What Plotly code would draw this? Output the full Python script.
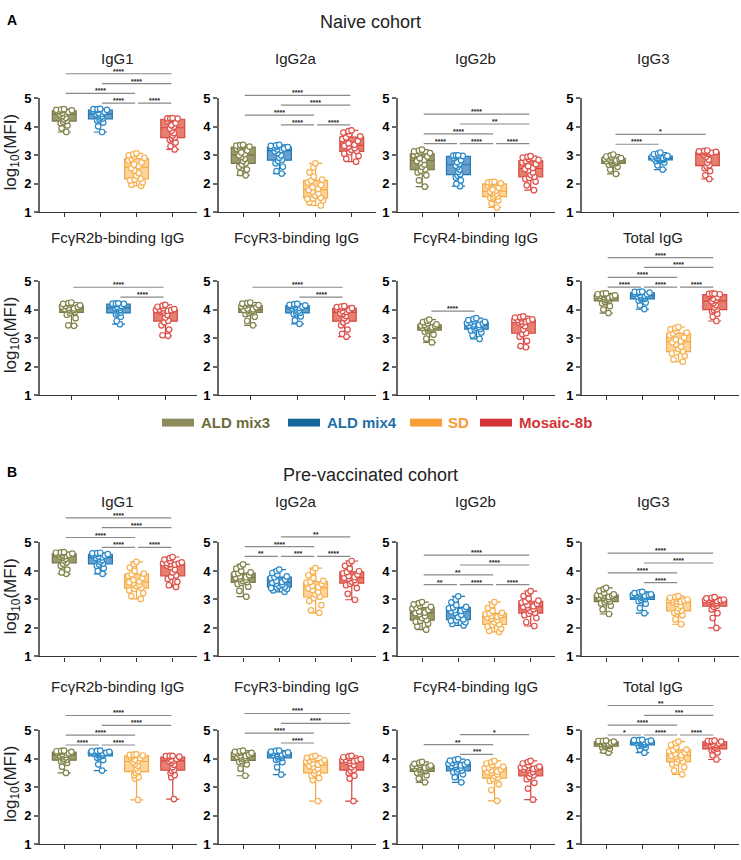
import numpy as np
import plotly.graph_objects as go

W, H = 741, 860
FONT = "Liberation Sans"

group_names = ["ALD mix3", "ALD mix4", "SD", "Mosaic-8b"]
box_line = ["#77774A", "#1F77B4", "#F5A742", "#D64541"]
box_fill = ["#9A9A6A", "#6A9FCB", "#FDD59A", "#E5806F"]
pt_line = ["#85854F", "#2E8BC9", "#F7B252", "#E0524C"]
legend_swatch = ["#8B8B5C", "#17679B", "#F99D36", "#D3343A"]
legend_text = ["#6C6D3A", "#1F6FA8", "#F79B35", "#D13438"]

# ---------------- Naive cohort ----------------
naive_igg1_mix3 = [3.82, 3.95, 4.05, 4.13, 4.18, 4.21, 4.26, 4.32, 4.38, 4.43, 4.47, 4.49, 4.52, 4.54, 4.56, 4.58, 4.59, 4.60, 4.61, 4.62]
naive_igg1_mix4 = [3.82, 4.02, 4.15, 4.22, 4.26, 4.29, 4.33, 4.37, 4.41, 4.44, 4.46, 4.49, 4.52, 4.55, 4.58, 4.60, 4.61, 4.62, 4.62, 4.63]
naive_igg1_sd = [1.93, 1.97, 2.05, 2.12, 2.15, 2.18, 2.28, 2.38, 2.47, 2.55, 2.62, 2.68, 2.75, 2.82, 2.88, 2.91, 2.96, 3.00, 3.04, 3.07]
naive_igg1_mos = [3.21, 3.32, 3.45, 3.55, 3.60, 3.63, 3.70, 3.78, 3.86, 3.94, 4.00, 4.06, 4.13, 4.20, 4.26, 4.29, 4.29, 4.30, 4.30, 4.31]

naive_igg2a_mix3 = [2.30, 2.38, 2.50, 2.60, 2.68, 2.73, 2.80, 2.88, 2.95, 3.00, 3.04, 3.10, 3.17, 3.23, 3.28, 3.31, 3.33, 3.34, 3.36, 3.37]
naive_igg2a_mix4 = [2.36, 2.45, 2.60, 2.72, 2.80, 2.84, 2.92, 3.00, 3.08, 3.14, 3.19, 3.21, 3.24, 3.26, 3.28, 3.29, 3.31, 3.33, 3.35, 3.37]
naive_igg2a_sd = [1.24, 1.35, 1.42, 1.47, 1.49, 1.51, 1.58, 1.66, 1.72, 1.78, 1.82, 1.88, 1.96, 2.04, 2.11, 2.15, 2.25, 2.40, 2.58, 2.72]
naive_igg2a_mos = [2.78, 2.88, 2.98, 3.06, 3.11, 3.15, 3.20, 3.25, 3.30, 3.33, 3.37, 3.42, 3.50, 3.57, 3.63, 3.67, 3.74, 3.80, 3.85, 3.88]

naive_igg2b_mix3 = [1.90, 2.12, 2.30, 2.40, 2.46, 2.51, 2.60, 2.68, 2.75, 2.80, 2.84, 2.90, 2.96, 3.01, 3.05, 3.08, 3.11, 3.14, 3.17, 3.20]
naive_igg2b_mix4 = [1.92, 2.00, 2.12, 2.22, 2.29, 2.34, 2.42, 2.50, 2.58, 2.64, 2.70, 2.76, 2.83, 2.90, 2.96, 2.98, 2.99, 2.99, 3.00, 3.00]
naive_igg2b_sd = [1.17, 1.30, 1.42, 1.50, 1.53, 1.56, 1.60, 1.65, 1.69, 1.72, 1.76, 1.80, 1.86, 1.93, 1.99, 2.02, 2.04, 2.05, 2.06, 2.07]
naive_igg2b_mos = [1.78, 1.95, 2.08, 2.17, 2.21, 2.25, 2.32, 2.40, 2.47, 2.52, 2.56, 2.62, 2.69, 2.75, 2.80, 2.84, 2.88, 2.92, 2.95, 2.97]

naive_igg3_mix3 = [2.35, 2.50, 2.60, 2.67, 2.70, 2.73, 2.75, 2.77, 2.79, 2.80, 2.82, 2.84, 2.86, 2.88, 2.89, 2.90, 2.93, 2.96, 3.00, 3.03]
naive_igg3_mix4 = [2.50, 2.65, 2.75, 2.80, 2.83, 2.85, 2.86, 2.87, 2.88, 2.89, 2.91, 2.92, 2.94, 2.96, 2.97, 2.98, 3.01, 3.04, 3.07, 3.10]
naive_igg3_mos = [2.17, 2.30, 2.45, 2.55, 2.61, 2.65, 2.75, 2.85, 2.95, 3.02, 3.06, 3.08, 3.09, 3.10, 3.11, 3.12, 3.13, 3.14, 3.16, 3.17]

naive_r2b_mix3 = [3.43, 3.45, 3.70, 3.82, 3.88, 3.91, 3.95, 3.98, 4.00, 4.02, 4.04, 4.06, 4.09, 4.11, 4.13, 4.15, 4.18, 4.20, 4.23, 4.25]
naive_r2b_mix4 = [3.49, 3.60, 3.75, 3.83, 3.87, 3.89, 3.94, 3.98, 4.02, 4.05, 4.07, 4.10, 4.13, 4.16, 4.19, 4.20, 4.20, 4.21, 4.21, 4.22]
naive_r2b_mos = [3.08, 3.10, 3.30, 3.45, 3.56, 3.61, 3.72, 3.82, 3.90, 3.94, 3.96, 3.97, 3.98, 3.99, 4.00, 4.02, 4.05, 4.10, 4.14, 4.17]

naive_r3_mix3 = [3.45, 3.60, 3.75, 3.84, 3.88, 3.91, 3.94, 3.96, 3.98, 3.99, 4.01, 4.04, 4.08, 4.11, 4.14, 4.16, 4.19, 4.21, 4.23, 4.25]
naive_r3_mix4 = [3.50, 3.62, 3.76, 3.84, 3.87, 3.89, 3.93, 3.97, 4.01, 4.04, 4.06, 4.08, 4.10, 4.12, 4.14, 4.15, 4.16, 4.17, 4.19, 4.20]
naive_r3_mos = [3.05, 3.15, 3.30, 3.45, 3.55, 3.61, 3.70, 3.78, 3.85, 3.88, 3.92, 3.95, 3.98, 4.01, 4.04, 4.05, 4.07, 4.09, 4.11, 4.12]

naive_r4_mix3 = [2.85, 2.98, 3.12, 3.22, 3.26, 3.29, 3.31, 3.33, 3.35, 3.36, 3.38, 3.40, 3.42, 3.44, 3.46, 3.48, 3.52, 3.56, 3.61, 3.65]
naive_r4_mix4 = [2.97, 3.10, 3.20, 3.27, 3.30, 3.32, 3.36, 3.39, 3.42, 3.44, 3.46, 3.48, 3.51, 3.53, 3.55, 3.57, 3.60, 3.63, 3.67, 3.70]
naive_r4_mos = [2.68, 2.72, 2.90, 3.05, 3.14, 3.18, 3.30, 3.42, 3.50, 3.55, 3.57, 3.59, 3.61, 3.63, 3.64, 3.66, 3.69, 3.72, 3.74, 3.76]

naive_tot_mix3 = [3.88, 4.00, 4.12, 4.22, 4.28, 4.31, 4.34, 4.37, 4.39, 4.41, 4.43, 4.44, 4.46, 4.48, 4.49, 4.50, 4.52, 4.54, 4.56, 4.57]
naive_tot_mix4 = [4.02, 4.15, 4.25, 4.32, 4.36, 4.38, 4.41, 4.43, 4.45, 4.47, 4.49, 4.51, 4.54, 4.56, 4.58, 4.60, 4.61, 4.62, 4.62, 4.63]
naive_tot_sd = [2.17, 2.25, 2.38, 2.46, 2.50, 2.53, 2.62, 2.70, 2.78, 2.85, 2.89, 2.95, 3.02, 3.10, 3.16, 3.19, 3.25, 3.31, 3.35, 3.39]
naive_tot_mos = [3.60, 3.75, 3.85, 3.93, 3.98, 4.01, 4.08, 4.16, 4.23, 4.29, 4.33, 4.38, 4.43, 4.48, 4.52, 4.54, 4.55, 4.55, 4.56, 4.56]

# ---------------- Pre-vaccinated cohort ----------------
pre_igg1_mix3 = [3.90, 3.95, 4.05, 4.18, 4.25, 4.30, 4.37, 4.43, 4.48, 4.51, 4.53, 4.55, 4.57, 4.59, 4.60, 4.61, 4.63, 4.64, 4.65, 4.66]
pre_igg1_mix4 = [3.90, 4.00, 4.10, 4.18, 4.23, 4.26, 4.32, 4.38, 4.43, 4.46, 4.48, 4.51, 4.54, 4.56, 4.58, 4.59, 4.61, 4.62, 4.63, 4.64]
pre_igg1_sd = [3.02, 3.12, 3.22, 3.32, 3.37, 3.41, 3.47, 3.52, 3.56, 3.60, 3.63, 3.68, 3.75, 3.82, 3.88, 3.91, 4.00, 4.12, 4.24, 4.32]
pre_igg1_mos = [3.44, 3.50, 3.62, 3.72, 3.80, 3.84, 3.95, 4.05, 4.14, 4.19, 4.22, 4.24, 4.26, 4.27, 4.28, 4.30, 4.35, 4.40, 4.45, 4.49]

pre_igg2a_mix3 = [3.10, 3.30, 3.45, 3.54, 3.58, 3.61, 3.65, 3.69, 3.73, 3.76, 3.78, 3.81, 3.85, 3.89, 3.92, 3.95, 4.00, 4.08, 4.16, 4.23]
pre_igg2a_mix4 = [3.27, 3.32, 3.37, 3.40, 3.42, 3.44, 3.48, 3.52, 3.56, 3.59, 3.61, 3.65, 3.70, 3.75, 3.78, 3.81, 3.87, 3.93, 4.00, 4.05]
pre_igg2a_sd = [2.53, 2.62, 2.80, 2.95, 3.05, 3.10, 3.18, 3.26, 3.33, 3.39, 3.43, 3.48, 3.54, 3.59, 3.62, 3.65, 3.75, 3.85, 3.98, 4.10]
pre_igg2a_mos = [2.99, 3.20, 3.40, 3.50, 3.55, 3.58, 3.63, 3.68, 3.73, 3.76, 3.78, 3.82, 3.87, 3.92, 3.96, 3.99, 4.08, 4.18, 4.28, 4.35]

pre_igg2b_mix3 = [1.94, 2.05, 2.15, 2.22, 2.25, 2.28, 2.35, 2.42, 2.48, 2.52, 2.54, 2.58, 2.63, 2.68, 2.71, 2.74, 2.78, 2.83, 2.87, 2.91]
pre_igg2b_mix4 = [2.09, 2.14, 2.20, 2.25, 2.27, 2.30, 2.38, 2.46, 2.53, 2.58, 2.60, 2.63, 2.66, 2.69, 2.72, 2.74, 2.80, 2.90, 3.00, 3.11]
pre_igg2b_sd = [1.86, 1.90, 1.97, 2.05, 2.10, 2.13, 2.20, 2.27, 2.33, 2.37, 2.39, 2.42, 2.45, 2.48, 2.51, 2.53, 2.60, 2.70, 2.80, 2.91]
pre_igg2b_mos = [2.07, 2.20, 2.35, 2.45, 2.50, 2.53, 2.60, 2.66, 2.71, 2.74, 2.76, 2.80, 2.85, 2.89, 2.93, 2.96, 3.03, 3.12, 3.22, 3.29]

pre_igg3_mix3 = [2.49, 2.65, 2.78, 2.86, 2.90, 2.93, 2.97, 3.01, 3.05, 3.07, 3.09, 3.11, 3.13, 3.15, 3.16, 3.18, 3.23, 3.30, 3.36, 3.41]
pre_igg3_mix4 = [2.52, 2.70, 2.85, 2.94, 2.98, 3.01, 3.05, 3.08, 3.10, 3.11, 3.13, 3.14, 3.15, 3.16, 3.17, 3.18, 3.20, 3.22, 3.25, 3.27]
pre_igg3_sd = [2.13, 2.30, 2.45, 2.53, 2.58, 2.61, 2.70, 2.78, 2.85, 2.90, 2.92, 2.94, 2.96, 2.98, 2.99, 3.00, 3.03, 3.06, 3.09, 3.12]
pre_igg3_mos = [2.00, 2.35, 2.52, 2.65, 2.74, 2.78, 2.83, 2.87, 2.91, 2.93, 2.95, 2.96, 2.97, 2.98, 2.99, 3.00, 3.02, 3.04, 3.06, 3.08]

pre_r2b_mix3 = [3.50, 3.72, 3.85, 3.90, 3.93, 3.95, 4.00, 4.05, 4.09, 4.12, 4.14, 4.16, 4.19, 4.21, 4.23, 4.24, 4.25, 4.26, 4.27, 4.28]
pre_r2b_mix4 = [3.58, 3.80, 3.95, 4.03, 4.07, 4.10, 4.12, 4.14, 4.16, 4.17, 4.19, 4.20, 4.21, 4.22, 4.23, 4.24, 4.25, 4.26, 4.27, 4.28]
pre_r2b_sd = [2.55, 3.30, 3.35, 3.42, 3.50, 3.56, 3.66, 3.75, 3.82, 3.88, 3.92, 3.96, 4.01, 4.05, 4.09, 4.11, 4.12, 4.13, 4.14, 4.15]
pre_r2b_mos = [2.58, 3.35, 3.42, 3.50, 3.57, 3.61, 3.70, 3.79, 3.86, 3.91, 3.93, 3.96, 3.99, 4.02, 4.05, 4.07, 4.08, 4.09, 4.10, 4.10]

pre_r3_mix3 = [3.40, 3.65, 3.80, 3.88, 3.92, 3.95, 3.99, 4.02, 4.05, 4.07, 4.09, 4.11, 4.14, 4.17, 4.19, 4.20, 4.22, 4.24, 4.26, 4.28]
pre_r3_mix4 = [3.44, 3.70, 3.88, 3.96, 4.00, 4.03, 4.06, 4.09, 4.11, 4.13, 4.15, 4.16, 4.18, 4.20, 4.21, 4.22, 4.24, 4.25, 4.27, 4.28]
pre_r3_sd = [2.51, 3.25, 3.32, 3.40, 3.47, 3.51, 3.58, 3.65, 3.71, 3.75, 3.79, 3.83, 3.87, 3.90, 3.93, 3.95, 3.99, 4.03, 4.07, 4.10]
pre_r3_mos = [2.51, 3.30, 3.40, 3.50, 3.57, 3.61, 3.70, 3.78, 3.84, 3.89, 3.91, 3.92, 3.94, 3.95, 3.96, 3.98, 4.02, 4.05, 4.08, 4.10]

pre_r4_mix3 = [3.17, 3.30, 3.42, 3.50, 3.53, 3.56, 3.59, 3.62, 3.64, 3.66, 3.68, 3.70, 3.72, 3.73, 3.74, 3.76, 3.79, 3.82, 3.86, 3.89]
pre_r4_mix4 = [3.17, 3.35, 3.45, 3.52, 3.55, 3.58, 3.63, 3.68, 3.72, 3.74, 3.76, 3.78, 3.80, 3.83, 3.85, 3.87, 3.90, 3.93, 3.96, 3.98]
pre_r4_sd = [2.52, 2.90, 3.10, 3.22, 3.29, 3.33, 3.39, 3.45, 3.50, 3.53, 3.55, 3.58, 3.62, 3.66, 3.69, 3.72, 3.77, 3.83, 3.88, 3.92]
pre_r4_mos = [2.56, 2.95, 3.15, 3.28, 3.36, 3.41, 3.48, 3.54, 3.59, 3.62, 3.64, 3.66, 3.68, 3.69, 3.70, 3.72, 3.77, 3.83, 3.88, 3.92]

pre_tot_mix3 = [4.21, 4.28, 4.35, 4.40, 4.42, 4.44, 4.46, 4.48, 4.50, 4.51, 4.53, 4.54, 4.56, 4.58, 4.59, 4.60, 4.61, 4.62, 4.62, 4.63]
pre_tot_mix4 = [4.21, 4.32, 4.40, 4.45, 4.47, 4.49, 4.51, 4.53, 4.55, 4.56, 4.58, 4.59, 4.60, 4.61, 4.62, 4.63, 4.64, 4.65, 4.65, 4.66]
pre_tot_sd = [3.45, 3.58, 3.70, 3.80, 3.86, 3.90, 3.97, 4.03, 4.07, 4.10, 4.12, 4.16, 4.21, 4.26, 4.30, 4.32, 4.40, 4.48, 4.55, 4.60]
pre_tot_mos = [3.97, 4.12, 4.22, 4.29, 4.32, 4.35, 4.39, 4.43, 4.46, 4.47, 4.49, 4.51, 4.54, 4.57, 4.59, 4.60, 4.61, 4.62, 4.62, 4.63]

panel_titles = ["IgG1", "IgG2a", "IgG2b", "IgG3",
                "FcγR2b-binding IgG", "FcγR3-binding IgG", "FcγR4-binding IgG", "Total IgG"]

# significance: (pos_i, pos_j, level, label); base = y of lowest level
S4 = "****"
panels = [
    # naive
    ([naive_igg1_mix3, naive_igg1_mix4, naive_igg1_sd, naive_igg1_mos], [0, 1, 2, 3], 4.83,
     [(1, 2, 0, S4), (2, 3, 0, S4), (0, 2, 1, S4), (1, 3, 2, S4), (0, 3, 3, S4)]),
    ([naive_igg2a_mix3, naive_igg2a_mix4, naive_igg2a_sd, naive_igg2a_mos], [0, 1, 2, 3], 4.07,
     [(1, 2, 0, S4), (2, 3, 0, S4), (0, 2, 1, S4), (1, 3, 2, S4), (0, 3, 3, S4)]),
    ([naive_igg2b_mix3, naive_igg2b_mix4, naive_igg2b_sd, naive_igg2b_mos], [0, 1, 2, 3], 3.41,
     [(0, 1, 0, S4), (1, 2, 0, S4), (2, 3, 0, S4), (0, 2, 1, S4), (1, 3, 2, "**"), (0, 3, 3, S4)]),
    ([naive_igg3_mix3, naive_igg3_mix4, naive_igg3_mos], [0, 1, 3], 3.39,
     [(0, 1, 0, S4), (0, 2, 1, "*")]),
    ([naive_r2b_mix3, naive_r2b_mix4, naive_r2b_mos], [0, 1, 3], 4.44,
     [(1, 2, 0, S4), (0, 2, 1, S4)]),
    ([naive_r3_mix3, naive_r3_mix4, naive_r3_mos], [0, 1, 3], 4.44,
     [(1, 2, 0, S4), (0, 2, 1, S4)]),
    ([naive_r4_mix3, naive_r4_mix4, naive_r4_mos], [0, 1, 3], 3.95,
     [(0, 1, 0, S4)]),
    ([naive_tot_mix3, naive_tot_mix4, naive_tot_sd, naive_tot_mos], [0, 1, 2, 3], 4.79,
     [(0, 1, 0, S4), (1, 2, 0, S4), (2, 3, 0, S4), (0, 2, 1, S4), (1, 3, 2, S4), (0, 3, 3, S4)]),
    # pre-vaccinated
    ([pre_igg1_mix3, pre_igg1_mix4, pre_igg1_sd, pre_igg1_mos], [0, 1, 2, 3], 4.83,
     [(1, 2, 0, S4), (2, 3, 0, S4), (0, 2, 1, S4), (1, 3, 2, S4), (0, 3, 3, S4)]),
    ([pre_igg2a_mix3, pre_igg2a_mix4, pre_igg2a_sd, pre_igg2a_mos], [0, 1, 2, 3], 4.51,
     [(0, 1, 0, "**"), (1, 2, 0, "***"), (2, 3, 0, S4), (0, 2, 1, S4), (1, 3, 2, "**")]),
    ([pre_igg2b_mix3, pre_igg2b_mix4, pre_igg2b_sd, pre_igg2b_mos], [0, 1, 2, 3], 3.52,
     [(0, 1, 0, "**"), (1, 2, 0, S4), (2, 3, 0, S4), (0, 2, 1, "**"), (1, 3, 2, S4), (0, 3, 3, S4)]),
    ([pre_igg3_mix3, pre_igg3_mix4, pre_igg3_sd, pre_igg3_mos], [0, 1, 2, 3], 3.59,
     [(1, 2, 0, S4), (0, 2, 1, S4), (1, 3, 2, S4), (0, 3, 3, S4)]),
    ([pre_r2b_mix3, pre_r2b_mix4, pre_r2b_sd, pre_r2b_mos], [0, 1, 2, 3], 4.48,
     [(0, 1, 0, S4), (1, 2, 0, S4), (0, 2, 1, S4), (1, 3, 2, S4), (0, 3, 3, S4)]),
    ([pre_r3_mix3, pre_r3_mix4, pre_r3_sd, pre_r3_mos], [0, 1, 2, 3], 4.55,
     [(1, 2, 0, S4), (0, 2, 1, S4), (1, 3, 2, S4), (0, 3, 3, S4)]),
    ([pre_r4_mix3, pre_r4_mix4, pre_r4_sd, pre_r4_mos], [0, 1, 2, 3], 4.15,
     [(1, 2, 0, "***"), (0, 2, 1, "**"), (1, 3, 2, "*")]),
    ([pre_tot_mix3, pre_tot_mix4, pre_tot_sd, pre_tot_mos], [0, 1, 2, 3], 4.83,
     [(0, 1, 0, "*"), (1, 2, 0, S4), (2, 3, 0, S4), (0, 2, 1, S4), (1, 3, 2, "***"), (0, 3, 3, "**")]),
]

# ---------------- layout geometry (pixels) ----------------
col_left = [40, 219, 398, 582]
col_w = 157
row_top = [93, 279, 545, 736]
row_h = 116
title_y = [52, 235, 503, 692]
title_cx = [117, 296, 475, 653]
LEVEL = 0.345

fig = go.Figure()
shapes = []
annotations = []

for k, (datasets, gidx, base, sigs) in enumerate(panels):
    r, c = divmod(k, 4)
    n = k + 1
    xa = "x" if n == 1 else f"x{n}"
    ya = "y" if n == 1 else f"y{n}"
    ncat = len(datasets)
    xr = [-0.67, ncat - 1 + 0.67]
    bw = 0.66 if ncat == 4 else 0.5

    x0 = col_left[c] / W
    x1 = (col_left[c] + col_w) / W
    y1 = 1 - row_top[r] / H
    y0 = 1 - (row_top[r] + row_h) / H

    fig.layout[f"xaxis{'' if n == 1 else n}"] = dict(
        domain=[x0, x1], range=xr, anchor=ya, showgrid=False, zeroline=False,
        showline=True, linecolor="#333333", linewidth=1.2, ticks="outside",
        ticklen=4, tickwidth=1, tickcolor="#333333", tickvals=list(range(ncat)),
        showticklabels=False, fixedrange=True)
    fig.layout[f"yaxis{'' if n == 1 else n}"] = dict(
        domain=[y0, y1], range=[1, 5], anchor=xa, showgrid=False, zeroline=False,
        showline=True, linecolor="#666666", linewidth=1.8, ticks="outside",
        ticklen=4, tickwidth=1.5, tickcolor="#666666", tickvals=[1, 2, 3, 4, 5],
        tickfont=dict(family=FONT, size=13, color="black", weight="bold"),
        fixedrange=True)

    for pos, (vals, g) in enumerate(zip(datasets, gidx)):
        v = np.array(vals)
        q1, med, q3 = np.percentile(v, [25, 50, 75])
        fig.add_trace(go.Box(
            x=[pos], q1=[q1], median=[med], q3=[q3],
            lowerfence=[v.min()], upperfence=[v.max()],
            width=bw, whiskerwidth=0.55, boxpoints=False,
            fillcolor=box_fill[g], line=dict(color=box_line[g], width=1.2),
            xaxis=xa, yaxis=ya, showlegend=False, hoverinfo="skip",
            name=group_names[g]))
        fig.add_trace(go.Box(
            x=[pos] * len(vals), y=vals, width=bw, boxpoints="all",
            jitter=0.85, pointpos=0, fillcolor="rgba(0,0,0,0)",
            line=dict(width=0, color="rgba(0,0,0,0)"),
            marker=dict(color="white", size=5.5, line=dict(color=pt_line[g], width=1.2)),
            xaxis=xa, yaxis=ya, showlegend=False, hoverinfo="skip",
            name=group_names[g]))

    # significance bars
    span = xr[1] - xr[0]
    for (i, j, lev, lab) in sigs:
        yv = base + lev * LEVEL
        yd = (yv - 1) / 4
        xa_d = (i + 0.04 - xr[0]) / span
        xb_d = (j - 0.04 - xr[0]) / span
        shapes.append(dict(type="line", xref=f"{xa} domain", yref=f"{ya} domain",
                           x0=xa_d, x1=xb_d, y0=yd, y1=yd,
                           line=dict(color="#8a8a8a", width=1.2)))
        annotations.append(dict(xref=f"{xa} domain", yref=f"{ya} domain",
                                x=(xa_d + xb_d) / 2, y=yd, text=lab, showarrow=False,
                                xanchor="center", yanchor="bottom", yshift=-3,
                                font=dict(family=FONT, size=7, color="#222222", weight="bold")))

    # panel title
    annotations.append(dict(xref="paper", yref="paper", x=title_cx[c] / W, y=1 - title_y[r] / H,
                            text=panel_titles[k % 8], showarrow=False,
                            xanchor="center", yanchor="middle",
                            font=dict(family=FONT, size=15, color="#222222")))

    if c == 0:
        annotations.append(dict(xref="paper", yref="paper", x=12 / W,
                                y=1 - (row_top[r] + row_h / 2 - 3) / H,
                                text="log<sub>10</sub>(MFI)", textangle=-90, showarrow=False,
                                xanchor="center", yanchor="middle",
                                font=dict(family=FONT, size=17, color="#222222")))

# cohort titles and panel letters
annotations += [
    dict(xref="paper", yref="paper", x=370 / W, y=1 - 15 / H, text="Naive cohort",
         showarrow=False, xanchor="center", yanchor="middle",
         font=dict(family=FONT, size=18, color="#222222")),
    dict(xref="paper", yref="paper", x=370 / W, y=1 - 476 / H, text="Pre-vaccinated cohort",
         showarrow=False, xanchor="center", yanchor="middle",
         font=dict(family=FONT, size=18, color="#222222")),
    dict(xref="paper", yref="paper", x=12 / W, y=1 - 13 / H, text="A",
         showarrow=False, xanchor="center", yanchor="middle",
         font=dict(family=FONT, size=14, color="black", weight="bold")),
    dict(xref="paper", yref="paper", x=12 / W, y=1 - 473 / H, text="B",
         showarrow=False, xanchor="center", yanchor="middle",
         font=dict(family=FONT, size=14, color="black", weight="bold")),
]

# legend
sw_x = [162, 288, 410, 480]
txt_x = [199, 325, 446, 517]
for g in range(4):
    shapes.append(dict(type="rect", xref="paper", yref="paper",
                       x0=sw_x[g] / W, x1=(sw_x[g] + 32) / W,
                       y0=1 - 427 / H, y1=1 - 419 / H,
                       fillcolor=legend_swatch[g], line=dict(width=0)))
    annotations.append(dict(xref="paper", yref="paper", x=txt_x[g] / W, y=1 - 423 / H,
                            text=group_names[g], showarrow=False,
                            xanchor="left", yanchor="middle",
                            font=dict(family=FONT, size=15, color=legend_text[g], weight="bold")))

fig.update_layout(
    width=W, height=H, margin=dict(l=0, r=0, t=0, b=0),
    paper_bgcolor="white", plot_bgcolor="white",
    boxmode="overlay", showlegend=False,
    shapes=shapes, annotations=annotations,
    font=dict(family=FONT),
)

fig.write_html("out.html")
